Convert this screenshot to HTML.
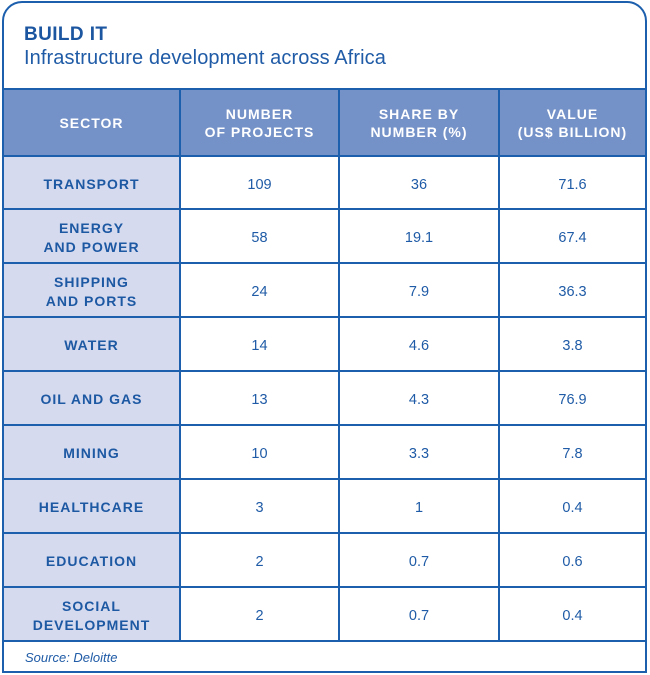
<!DOCTYPE html>
<html>
<head>
<meta charset="utf-8">
<style>
html,body{margin:0;padding:0;background:#fff;}
body{width:650px;height:675px;position:relative;overflow:hidden;font-family:"Liberation Sans",sans-serif;}
.frame{position:absolute;left:2px;top:1px;width:645px;height:672px;box-sizing:border-box;border:2px solid #1c5fad;border-radius:20px 20px 0 0;}
.hl{position:absolute;left:2px;width:645px;height:2px;background:#1c5fad;}
.vl{position:absolute;top:88px;height:553px;width:2px;background:#1c5fad;}
.fill{position:absolute;}
.cell{position:absolute;display:flex;align-items:center;justify-content:center;text-align:center;color:#1f5ba6;box-sizing:border-box;}
.hd{color:#fff;font-weight:bold;font-size:14px;letter-spacing:1px;line-height:18px;padding-top:1px;}
.sec{font-weight:bold;font-size:14px;letter-spacing:1px;line-height:19px;color:#1d58a3;padding-top:3px;}
.num{font-size:14.5px;padding-top:4px;}
.title{position:absolute;left:24px;top:24px;font-size:19px;font-weight:bold;color:#1c56a0;letter-spacing:0.4px;}
.sub{position:absolute;left:24px;top:47px;font-size:20px;color:#1f5ba6;letter-spacing:0.1px;}
.src{position:absolute;left:25px;top:650px;font-size:13px;font-style:italic;color:#1f5ba6;}
</style>
</head>
<body>
<div class="fill" style="left:4px;top:90px;width:641px;height:65px;background:#7592c8;"></div>
<div class="fill" style="left:4px;top:157px;width:175px;height:483px;background:#d5daef;"></div>
<div class="frame"></div>
<div class="title">BUILD IT</div>
<div class="sub">Infrastructure development across Africa</div>

<div class="hl" style="top:88px"></div>
<div class="hl" style="top:155px"></div>
<div class="hl" style="top:208px"></div>
<div class="hl" style="top:262px"></div>
<div class="hl" style="top:316px"></div>
<div class="hl" style="top:370px"></div>
<div class="hl" style="top:424px"></div>
<div class="hl" style="top:478px"></div>
<div class="hl" style="top:532px"></div>
<div class="hl" style="top:586px"></div>
<div class="hl" style="top:640px"></div>
<div class="vl" style="left:179px"></div>
<div class="vl" style="left:338px"></div>
<div class="vl" style="left:498px"></div>

<!-- header -->
<div class="cell hd" style="left:4px;top:90px;width:175px;height:65px;">SECTOR</div>
<div class="cell hd" style="left:181px;top:90px;width:157px;height:65px;">NUMBER<br>OF PROJECTS</div>
<div class="cell hd" style="left:340px;top:90px;width:158px;height:65px;">SHARE BY<br>NUMBER (%)</div>
<div class="cell hd" style="left:500px;top:90px;width:145px;height:65px;">VALUE<br>(US$ BILLION)</div>

<!-- rows -->
<div class="cell sec" style="left:4px;top:157px;width:175px;height:51px;">TRANSPORT</div>
<div class="cell num" style="left:181px;top:157px;width:157px;height:51px;">109</div>
<div class="cell num" style="left:340px;top:157px;width:158px;height:51px;">36</div>
<div class="cell num" style="left:500px;top:157px;width:145px;height:51px;">71.6</div>

<div class="cell sec" style="left:4px;top:210px;width:175px;height:52px;">ENERGY<br>AND POWER</div>
<div class="cell num" style="left:181px;top:210px;width:157px;height:52px;">58</div>
<div class="cell num" style="left:340px;top:210px;width:158px;height:52px;">19.1</div>
<div class="cell num" style="left:500px;top:210px;width:145px;height:52px;">67.4</div>

<div class="cell sec" style="left:4px;top:264px;width:175px;height:52px;">SHIPPING<br>AND PORTS</div>
<div class="cell num" style="left:181px;top:264px;width:157px;height:52px;">24</div>
<div class="cell num" style="left:340px;top:264px;width:158px;height:52px;">7.9</div>
<div class="cell num" style="left:500px;top:264px;width:145px;height:52px;">36.3</div>

<div class="cell sec" style="left:4px;top:318px;width:175px;height:52px;">WATER</div>
<div class="cell num" style="left:181px;top:318px;width:157px;height:52px;">14</div>
<div class="cell num" style="left:340px;top:318px;width:158px;height:52px;">4.6</div>
<div class="cell num" style="left:500px;top:318px;width:145px;height:52px;">3.8</div>

<div class="cell sec" style="left:4px;top:372px;width:175px;height:52px;">OIL AND GAS</div>
<div class="cell num" style="left:181px;top:372px;width:157px;height:52px;">13</div>
<div class="cell num" style="left:340px;top:372px;width:158px;height:52px;">4.3</div>
<div class="cell num" style="left:500px;top:372px;width:145px;height:52px;">76.9</div>

<div class="cell sec" style="left:4px;top:426px;width:175px;height:52px;">MINING</div>
<div class="cell num" style="left:181px;top:426px;width:157px;height:52px;">10</div>
<div class="cell num" style="left:340px;top:426px;width:158px;height:52px;">3.3</div>
<div class="cell num" style="left:500px;top:426px;width:145px;height:52px;">7.8</div>

<div class="cell sec" style="left:4px;top:480px;width:175px;height:52px;">HEALTHCARE</div>
<div class="cell num" style="left:181px;top:480px;width:157px;height:52px;">3</div>
<div class="cell num" style="left:340px;top:480px;width:158px;height:52px;">1</div>
<div class="cell num" style="left:500px;top:480px;width:145px;height:52px;">0.4</div>

<div class="cell sec" style="left:4px;top:534px;width:175px;height:52px;">EDUCATION</div>
<div class="cell num" style="left:181px;top:534px;width:157px;height:52px;">2</div>
<div class="cell num" style="left:340px;top:534px;width:158px;height:52px;">0.7</div>
<div class="cell num" style="left:500px;top:534px;width:145px;height:52px;">0.6</div>

<div class="cell sec" style="left:4px;top:588px;width:175px;height:52px;">SOCIAL<br>DEVELOPMENT</div>
<div class="cell num" style="left:181px;top:588px;width:157px;height:52px;">2</div>
<div class="cell num" style="left:340px;top:588px;width:158px;height:52px;">0.7</div>
<div class="cell num" style="left:500px;top:588px;width:145px;height:52px;">0.4</div>

<div class="src">Source: Deloitte</div>
</body>
</html>
